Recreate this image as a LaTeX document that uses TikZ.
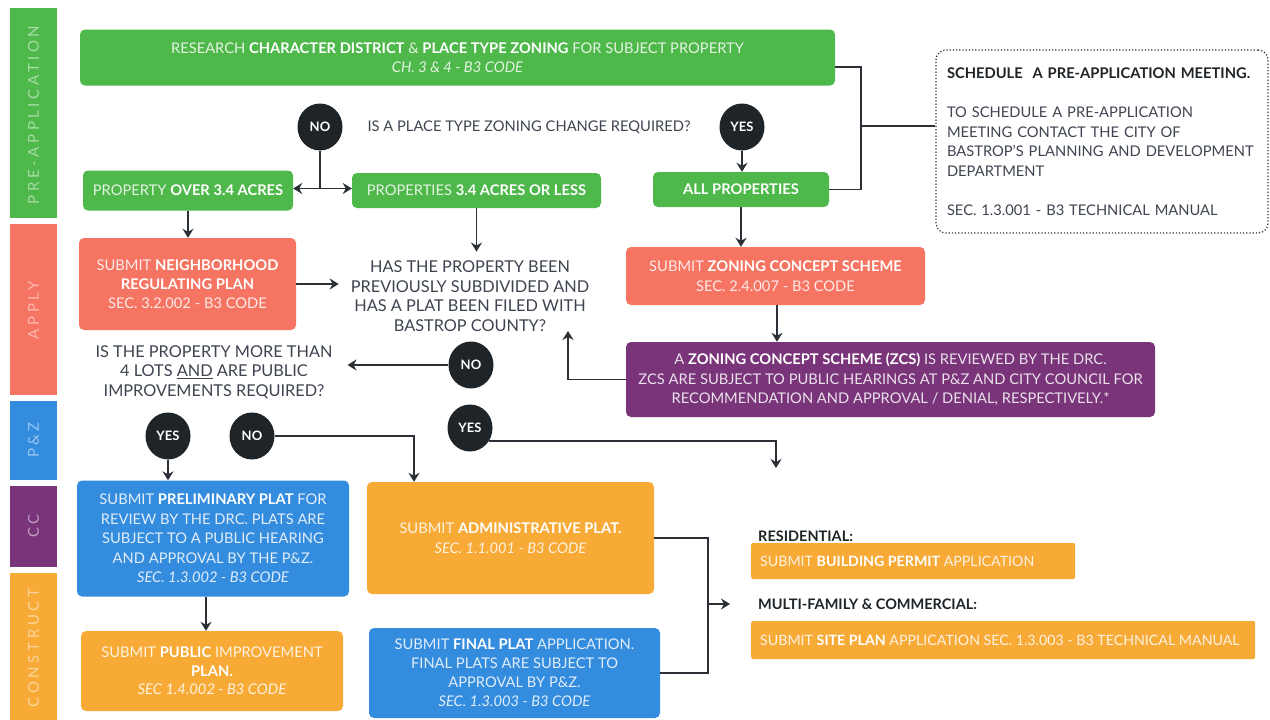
\documentclass[tikz,border=0pt]{standalone}
\usepackage{fontspec}
\setmainfont{Lato}
\usetikzlibrary{arrows.meta,shapes.geometric,calc}
\definecolor{cgreen}{RGB}{78,184,74}
\definecolor{csalmon}{RGB}{246,116,98}
\definecolor{cpurple}{RGB}{122,52,122}
\definecolor{cblue}{RGB}{52,140,222}
\definecolor{corange}{RGB}{248,170,54}
\definecolor{cdark}{RGB}{30,36,40}
\definecolor{ctext}{RGB}{62,68,80}
\definecolor{cline}{RGB}{42,48,54}
\newcommand\bw[1]{{\bfseries\color{white}#1}}
\begin{document}
\begin{tikzpicture}[x=1pt,y=-1pt,
 box/.style={rounded corners=5pt, inner sep=2pt, align=center, font=\fontsize{14.7}{19.5}\selectfont},
 gbox/.style={box, fill=cgreen, text=white!85!cgreen},
 sbox/.style={box, fill=csalmon, text=white!85!csalmon},
 pbox/.style={box, fill=cpurple, text=white!85!cpurple},
 bbox/.style={box, fill=cblue, text=white!85!cblue},
 obox/.style={box, fill=corange, text=white!85!corange},
 dot/.style={ellipse, fill=cdark, text=white, inner sep=0pt, minimum width=45pt, minimum height=47pt, font=\fontsize{13}{15}\selectfont\bfseries},
 quest/.style={text=ctext, align=center, inner sep=1pt, font=\fontsize{16.3}{19.5}\selectfont},
 arr/.style={draw=cline, line width=1.6pt, -{Stealth[length=9pt,width=11pt,inset=3pt]}},
 conn/.style={draw=cline, line width=1.6pt},
 bandtxt/.style={rotate=90, inner sep=0pt, font=\fontsize{15}{17}\selectfont\addfontfeatures{LetterSpace=24}},
 strip/.style={rounded corners=2pt, anchor=west, inner sep=0pt, fill=corange},
 striptxt/.style={anchor=west, inner sep=0pt, text=white!85!corange, font=\fontsize{14.2}{16}\selectfont},
 lab/.style={anchor=west, text=cdark, inner sep=0pt, font=\fontsize{14.5}{16}\selectfont\bfseries}
]
\useasboundingbox (0,0) rectangle (1270,720);
\fill[white] (0,0) rectangle (1270,720);

% side bands
\fill[cgreen] (10,8) rectangle (57,218);
\node[bandtxt, text=white!50!cgreen] (tpre) at (33.5,115) {PRE-APPLICATION};
\fill[csalmon] (10,224) rectangle (57,395);
\node[bandtxt, text=white!50!csalmon] (tapp) at (33.5,310) {APPLY};
\fill[cblue] (10,401) rectangle (57,480);
\node[bandtxt, text=white!50!cblue] (tpz) at (33.5,440) {P\&Z};
\fill[cpurple] (10,486) rectangle (57,567);
\node[bandtxt, text=white!50!cpurple] (tcc) at (33.5,526) {CC};
\fill[corange] (10,573) rectangle (57,720);
\node[bandtxt, text=white!50!corange] (tcon) at (33.5,648) {CONSTRUCT};

% pre-application
\node[gbox, minimum width=755pt, minimum height=56pt] (research) at (457.5,57.5)
 {RESEARCH \bw{CHARACTER DISTRICT} \& \bw{PLACE TYPE ZONING} FOR SUBJECT PROPERTY\\\textit{CH. 3 \& 4 - B3 CODE}};
\node[dot] (no1) at (320,127) {NO};
\node[quest, font=\fontsize{14.7}{17}\selectfont] (q1) at (529,127) {IS A PLACE TYPE ZONING CHANGE REQUIRED?};
\node[dot] (yes1) at (742,127) {YES};
\node[gbox, minimum width=210pt, minimum height=40pt] (over) at (188,190.5) {PROPERTY \bw{OVER 3.4 ACRES}};
\node[gbox, minimum width=249pt, minimum height=35pt] (less) at (476.5,190.5) {PROPERTIES \bw{3.4 ACRES OR LESS}};
\node[gbox, minimum width=176pt, minimum height=35pt] (allp) at (741,189.5) {\bw{ALL PROPERTIES}};
\coordinate (j1) at (320,188.5);
\draw[conn] (no1) -- (j1);
\draw[arr] (j1) -- (j1 -| over.east);
\draw[arr] (j1) -- (j1 -| less.west);
\draw[arr] (yes1) -- (yes1 |- allp.north);

\node[draw=cline, dotted, line width=1.2pt, rounded corners=10pt, minimum width=332pt, minimum height=183pt,
 text width=310pt, inner xsep=11pt, align=left, text=ctext, font=\fontsize{14.7}{19.5}\selectfont] (meet) at (1102,141.5)
 {{\bfseries\color{cdark}SCHEDULE \ A PRE-APPLICATION MEETING.}\\[19.5pt]TO SCHEDULE A PRE-APPLICATION\\MEETING CONTACT THE CITY OF\\BASTROP'S PLANNING AND DEVELOPMENT\\DEPARTMENT\\[19.5pt]SEC. 1.3.001 - B3 TECHNICAL MANUAL};
\coordinate (j2) at (861,126);
\draw[conn] ([yshift=-9.5pt]research.east) -| (j2) |- (allp.east);
\draw[conn] (j2) -- (j2 -| meet.west);

% apply
\node[sbox, minimum width=217pt, minimum height=92pt, font=\fontsize{14.7}{19}\selectfont] (nrp) at (187.5,284)
 {SUBMIT \bw{NEIGHBORHOOD}\\\bw{REGULATING PLAN}\\SEC. 3.2.002 - B3 CODE};
\node[quest] (q2) at (470,296) {HAS THE PROPERTY BEEN\\PREVIOUSLY SUBDIVIDED AND\\HAS A PLAT BEEN FILED WITH\\BASTROP COUNTY?};
\draw[arr] (over.south) -- (over.south |- nrp.north);
\draw[arr, shorten >=8pt] (less.south) -- (less.south |- q2.north);
\draw[arr, shorten >=11pt] (nrp.east) -- (nrp.east -| q2.west);

\node[sbox, minimum width=299pt, minimum height=58pt] (zcs) at (775.5,276)
 {SUBMIT \bw{ZONING CONCEPT SCHEME}\\SEC. 2.4.007 - B3 CODE};
\draw[arr] (allp.south) -- (allp.south |- zcs.north);
\node[pbox, minimum width=529pt, minimum height=75pt] (drc) at (890.5,379.5)
 {A \bw{ZONING CONCEPT SCHEME (ZCS)} IS REVIEWED BY THE DRC.\\ZCS ARE SUBJECT TO PUBLIC HEARINGS AT P\&Z AND CITY COUNCIL FOR\\RECOMMENDATION AND APPROVAL / DENIAL, RESPECTIVELY.*};
\draw[arr] ([xshift=1.5pt]zcs.south) -- ([xshift=1.5pt]zcs.south |- drc.north);
\coordinate (q2b) at (568,331);
\draw[arr] (drc.west) -| (q2b);

\node[quest] (q3) at (214,372) {IS THE PROPERTY MORE THAN\\4 LOTS \underline{AND} ARE PUBLIC\\IMPROVEMENTS REQUIRED?};
\node[dot] (no2) at (471,365) {NO};
\draw[arr, shorten >=14pt] (no2) -- (no2 -| q3.east);
\node[dot] (yes2) at (470,428) {YES};
\coordinate (ya) at (776,468);
\draw[arr] (yes2.-35) -| (ya);

% P&Z / CC
\node[dot] (yes3) at (168,436) {YES};
\node[dot] (no3) at (252,436) {NO};
\node[bbox, minimum width=272pt, minimum height=116pt] (pp) at (213,538.5)
 {SUBMIT \bw{PRELIMINARY PLAT} FOR\\REVIEW BY THE DRC. PLATS ARE\\SUBJECT TO A PUBLIC HEARING\\AND APPROVAL BY THE P\&Z.\\\textit{SEC. 1.3.002 - B3 CODE}};
\draw[arr] (yes3) -- (yes3 |- pp.north);
\node[obox, minimum width=287pt, minimum height=112pt] (adm) at (510.5,538)
 {SUBMIT \bw{ADMINISTRATIVE PLAT.}\\\textit{SEC. 1.1.001 - B3 CODE}};
\draw[arr] (no3) -| ([xshift=-96.5pt]adm.north);

% construct
\node[obox, minimum width=262pt, minimum height=80pt, font=\fontsize{14.7}{18.5}\selectfont] (pip) at (212,671)
 {SUBMIT \bw{PUBLIC} IMPROVEMENT\\\bw{PLAN.}\\\textit{SEC 1.4.002 - B3 CODE}};
\draw[arr] ([xshift=-7pt]pp.south) -- ([xshift=-7pt]pp.south |- pip.north);
\node[bbox, minimum width=291pt, minimum height=90pt, font=\fontsize{14.7}{19}\selectfont] (fp) at (514.5,673)
 {SUBMIT \bw{FINAL PLAT} APPLICATION.\\FINAL PLATS ARE SUBJECT TO\\APPROVAL BY P\&Z.\\\textit{SEC. 1.3.003 - B3 CODE}};
\coordinate (j3) at (708,604);
\coordinate (j4) at (730,604);
\draw[conn] (adm.east) -| (j3) |- (fp.east);
\draw[arr] (j3) -- (j4);

\node[lab] (lres) at (758,536) {RESIDENTIAL:};
\node[strip, minimum width=324pt, minimum height=36pt] (bp) at (751,561) {};
\node[striptxt] (bpt) at (760,561) {SUBMIT \bw{BUILDING PERMIT} APPLICATION};
\node[lab] (lmf) at (758,604) {MULTI-FAMILY \& COMMERCIAL:};
\node[strip, minimum width=504pt, minimum height=38pt] (sp) at (751,640) {};
\node[striptxt] (spt) at (760,640) {SUBMIT \bw{SITE PLAN} APPLICATION SEC. 1.3.003 - B3 TECHNICAL MANUAL};
\end{tikzpicture}
\end{document}
